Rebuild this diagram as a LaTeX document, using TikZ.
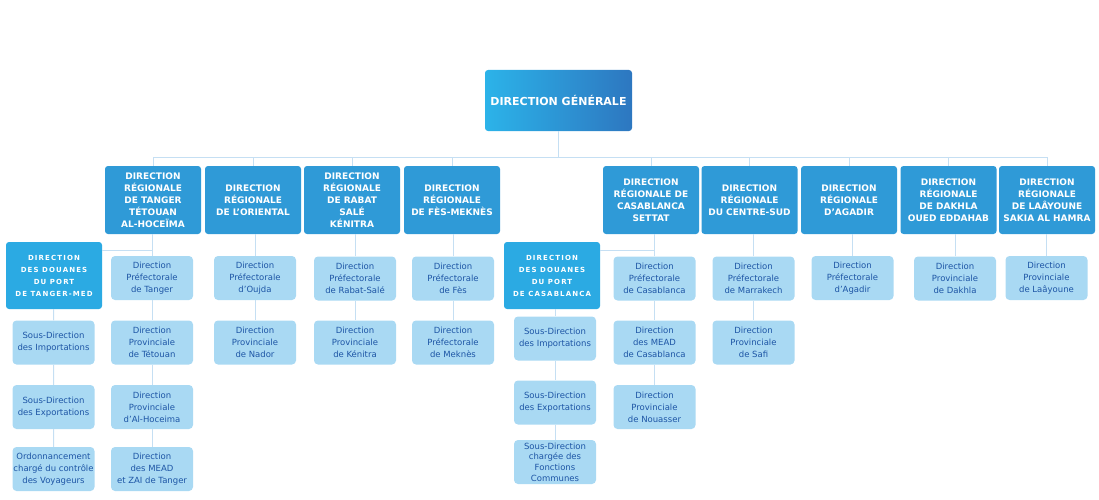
\documentclass[tikz,border=0pt]{standalone}
\usepackage{fontspec}
\setmainfont{DejaVu Sans}
\newfontfamily\douanefont[LetterSpace=16]{DejaVu Sans}
\usepackage{xcolor}
\usepackage{tikz}
\usetikzlibrary{calc}
\definecolor{regblue}{HTML}{2F9AD7}
\definecolor{douaneblue}{HTML}{2BAAE3}
\definecolor{subblue}{HTML}{A9D9F3}
\definecolor{subtext}{HTML}{1D55A5}
\definecolor{linkblue}{HTML}{C5DFF3}
\definecolor{dgleft}{HTML}{2CB3E9}
\definecolor{dgright}{HTML}{2D77C0}

\begin{document}
\begin{tikzpicture}[x=1pt,y=-1pt,
    link/.style={draw=linkblue,line width=1pt},
    dgbox/.style={left color=dgleft,right color=dgright,text=white,rounded corners=3pt,minimum width=147pt,minimum height=61pt,inner sep=0pt,font=\fontsize{11}{13}\selectfont\bfseries},
    regbox/.style={fill=regblue,text=white,rounded corners=3pt,minimum width=96pt,minimum height=68pt,align=center,inner sep=0pt,font=\fontsize{9}{12}\selectfont\bfseries},
    douanebox/.style={regbox,fill=douaneblue,minimum height=67pt,font=\douanefont\fontsize{7}{12}\selectfont\bfseries},
    subbox/.style={fill=subblue,text=subtext,rounded corners=4pt,minimum width=82pt,minimum height=44pt,align=center,inner sep=0pt,font=\fontsize{8.5}{12}\selectfont}]
            \useasboundingbox (0,0) rectangle (1099,500);
            %\draw[help lines] (0,0) grid[step=50] (1099,500);
            \node[dgbox] (dg) at (558.5,100.5) {DIRECTION GÉNÉRALE};
            % regional directions
            \node[regbox] (rtan) at (153,200) {DIRECTION\\RÉGIONALE\\DE TANGER\\TÉTOUAN\\AL-HOCEÏMA};
            \node[regbox] (rori) at (253,200) {DIRECTION\\RÉGIONALE\\DE L’ORIENTAL};
            \node[regbox] (rrab) at (352,200) {DIRECTION\\RÉGIONALE\\DE RABAT\\SALÉ\\KÉNITRA};
            \node[regbox] (rfes) at (452,200) {DIRECTION\\RÉGIONALE\\DE FÈS-MEKNÈS};
            \node[regbox] (rcas) at (651,200) {DIRECTION\\RÉGIONALE DE\\CASABLANCA\\SETTAT};
            \node[regbox] (rcen) at (749.5,200) {DIRECTION\\RÉGIONALE\\DU CENTRE-SUD};
            \node[regbox] (raga) at (849,200) {DIRECTION\\RÉGIONALE\\D’AGADIR};
            \node[regbox] (rdak) at (948.5,200) {DIRECTION\\RÉGIONALE\\DE DAKHLA\\OUED EDDAHAB};
            \node[regbox] (rlaa) at (1047,200) {DIRECTION\\RÉGIONALE\\DE LAÂYOUNE\\SAKIA AL HAMRA};
            \draw[link] (dg.south) -- ++(0,26) coordinate (bus);
            \foreach \r in {rtan,rori,rrab,rfes,rcas,rcen,raga,rdak,rlaa}
                \draw[link] (bus) -| (\r.north);
            % Tanger
            \node[subbox] (stan1) at (152,278) {Direction\\Préfectorale\\de Tanger};
            \node[subbox] (stan2) at (152,342.5) {Direction\\Provinciale\\de Tétouan};
            \node[subbox] (stan3) at (152,407) {Direction\\Provinciale\\d’Al-Hoceima};
            \node[subbox] (stan4) at (152,469) {Direction\\des MEAD\\et ZAI de Tanger};
            \draw[link] (stan1.north) -- (stan1.north |- rtan.south);
            \draw[link] (stan1) -- (stan2) (stan2) -- (stan3) (stan3) -- (stan4);
            \node[douanebox] (dtm) at (54,275.5) {DIRECTION\\DES DOUANES\\DU PORT\\DE TANGER-MED};
            \node[subbox] (dtm1) at (53.5,342.5) {Sous-Direction\\des Importations};
            \node[subbox] (dtm2) at (53.5,407) {Sous-Direction\\des Exportations};
            \node[subbox] (dtm3) at (53.5,469) {Ordonnancement\\chargé du contrôle\\des Voyageurs};
            \coordinate (btan) at ([yshift=25.5pt]dtm.east);
            \draw[link] (btan) -- (btan -| stan1.north);
            \draw[link] (dtm) -- (dtm1) (dtm1) -- (dtm2) (dtm2) -- (dtm3);
            % Oriental, Rabat, Fes
            \node[subbox] (sori1) at (255,278) {Direction\\Préfectorale\\d’Oujda};
            \node[subbox] (sori2) at (255,342.5) {Direction\\Provinciale\\de Nador};
            \draw[link] (sori1.north) -- (sori1.north |- rori.south);
            \draw[link] (sori1) -- (sori2);
            \node[subbox] (srab1) at (355,278.5) {Direction\\Préfectorale\\de Rabat-Salé};
            \node[subbox] (srab2) at (355,342.5) {Direction\\Provinciale\\de Kénitra};
            \draw[link] (srab1.north) -- (srab1.north |- rrab.south);
            \draw[link] (srab1) -- (srab2);
            \node[subbox] (sfes1) at (453,278.5) {Direction\\Préfectorale\\de Fès};
            \node[subbox] (sfes2) at (453,342.5) {Direction\\Préfectorale\\de Meknès};
            \draw[link] (sfes1.north) -- (sfes1.north |- rfes.south);
            \draw[link] (sfes1) -- (sfes2);
            % Casablanca
            \node[subbox] (scas1) at (654.5,278.5) {Direction\\Préfectorale\\de Casablanca};
            \node[subbox] (scas2) at (654.5,342.5) {Direction\\des MEAD\\de Casablanca};
            \node[subbox] (scas3) at (654.5,407) {Direction\\Provinciale\\de Nouasser};
            \draw[link] (scas1.north) -- (scas1.north |- rcas.south);
            \draw[link] (scas1) -- (scas2) (scas2) -- (scas3);
            \node[douanebox] (dca) at (552,275.5) {DIRECTION\\DES DOUANES\\DU PORT\\DE CASABLANCA};
            \node[subbox] (dca1) at (555,338.5) {Sous-Direction\\des Importations};
            \node[subbox] (dca2) at (555,402.5) {Sous-Direction\\des Exportations};
            \node[subbox,font=\fontsize{8.5}{10.7}\selectfont] (dca3) at (555,462) {Sous-Direction\\chargée des\\Fonctions\\Communes};
            \coordinate (bcas) at ([yshift=25.5pt]dca.east);
            \draw[link] (bcas) -- (bcas -| scas1.north);
            \draw[link] (dca.south -| dca1.north) -- (dca1) (dca1) -- (dca2) (dca2) -- (dca3);
            % Centre-Sud, Agadir, Dakhla, Laayoune
            \node[subbox] (scen1) at (753.5,278.5) {Direction\\Préfectorale\\de Marrakech};
            \node[subbox] (scen2) at (753.5,342.5) {Direction\\Provinciale\\de Safi};
            \draw[link] (scen1.north) -- (scen1.north |- rcen.south);
            \draw[link] (scen1) -- (scen2);
            \node[subbox] (saga1) at (852.5,278) {Direction\\Préfectorale\\d’Agadir};
            \draw[link] (saga1.north) -- (saga1.north |- raga.south);
            \node[subbox] (sdak1) at (955,278.5) {Direction\\Provinciale\\de Dakhla};
            \draw[link] (sdak1.north) -- (sdak1.north |- rdak.south);
            \node[subbox] (slaa1) at (1046.5,278) {Direction\\Provinciale\\de Laâyoune};
            \draw[link] (slaa1.north) -- (slaa1.north |- rlaa.south);
        \end{tikzpicture}
\end{document}
